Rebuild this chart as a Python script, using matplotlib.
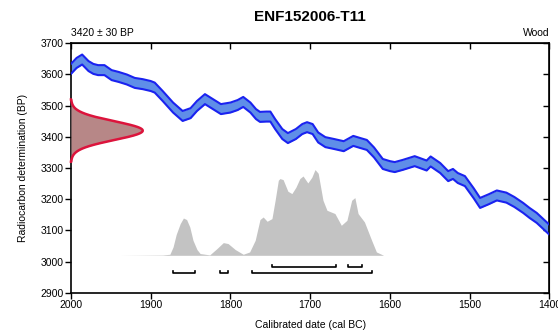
import matplotlib
matplotlib.use("Agg")
import matplotlib.pyplot as plt
import numpy as np

plt.rcParams["font.family"] = ["Liberation Sans", "DejaVu Sans"]

# measurement
c14_age = 3420
c14_err = 30

# calibration curve (mid line, cal BC -> BP)
cal_years = [2000, 1993, 1986, 1978, 1972, 1966, 1958, 1949, 1940, 1930, 1920,
             1910, 1900, 1895, 1885, 1872, 1860, 1850, 1842, 1832, 1822, 1812,
             1800, 1791, 1784, 1775, 1768, 1763, 1755, 1750, 1744, 1735, 1728,
             1718, 1710, 1704, 1697, 1690, 1681, 1670, 1658, 1646, 1637, 1629,
             1620, 1609, 1600, 1594, 1584, 1569, 1554, 1549, 1537, 1527, 1521,
             1515, 1506, 1495, 1487, 1476, 1466, 1454, 1444, 1433, 1425, 1416,
             1400]
cal_bp = [3618, 3637, 3648, 3627, 3618, 3614, 3614, 3598, 3592, 3584, 3573,
          3569, 3563, 3558, 3531, 3494, 3467, 3476, 3499, 3521, 3505, 3489,
          3494, 3502, 3512, 3494, 3473, 3464, 3465, 3465, 3441, 3409, 3396,
          3409, 3425, 3431, 3425, 3398, 3383, 3377, 3370, 3387, 3380, 3374,
          3350, 3313, 3306, 3303, 3310, 3322, 3308, 3321, 3300, 3274, 3281,
          3268, 3258, 3219, 3188, 3200, 3212, 3205, 3191, 3172, 3156, 3140,
          3102]
cal_err = 16

# calibrated probability (relative)
prob_years = [1939, 1885, 1876, 1872, 1868, 1863, 1859, 1855, 1851, 1847,
              1842, 1838, 1826, 1817, 1809, 1803, 1794, 1784, 1776, 1769,
              1763, 1759, 1754, 1748, 1744, 1740, 1738, 1734, 1728, 1723,
              1718, 1713, 1709, 1703, 1698, 1694, 1690, 1684, 1679, 1669,
              1661, 1654, 1648, 1644, 1640, 1632, 1623, 1617, 1608, 1509]
prob_vals = [0.0, 0.004, 0.012, 0.097, 0.245, 0.37, 0.435, 0.417, 0.33,
             0.175, 0.067, 0.02, 0.005, 0.078, 0.148, 0.137, 0.067, 0.012,
             0.039, 0.175, 0.417, 0.447, 0.397, 0.428, 0.642, 0.875, 0.895,
             0.883, 0.747, 0.72, 0.793, 0.895, 0.925, 0.844, 0.91, 1.0, 0.957,
             0.642, 0.525, 0.487, 0.35, 0.408, 0.642, 0.673, 0.487, 0.389,
             0.175, 0.039, 0.0, 0.0]

# highest density ranges
range_68 = [(1748, 1668), (1653, 1635)]
range_95 = [(1872, 1845), (1813, 1803), (1773, 1622)]

fig = plt.figure(figsize=(5.58, 3.33), dpi=100)
ax = fig.add_axes([0.1272, 0.121, 0.8575, 0.7489])

# calibration curve band
cy = np.array(cal_years)
cb = np.array(cal_bp)
ax.fill_between(cy, cb - cal_err, cb + cal_err, color="#5f8ee8", lw=0, zorder=2)
ax.plot(cy, cb + cal_err, color="#1a22f0", lw=1.5, zorder=3)
ax.plot(cy, cb - cal_err, color="#1a22f0", lw=1.5, zorder=3)

# radiocarbon measurement on the y axis
bp = np.linspace(c14_age - 100, c14_age + 100, 300)
dens = np.exp(-0.5 * ((bp - c14_age) / c14_err) ** 2)
xs = 2000 - 90 * dens
ax.fill_betweenx(bp, 2000, xs, color="#b78787", lw=0, zorder=4)
ax.plot(np.r_[2000, xs, 2000], np.r_[bp[0], bp, bp[-1]], color="#dc143c",
        lw=1.8, zorder=5, clip_on=False)

# calibrated distribution
base = 3020
ax.fill_between(prob_years, base, base + 275 * np.array(prob_vals),
                color="#c3c3c3", lw=0, zorder=1)


def bracket(a, b, y):
    ax.plot([a, a, b, b], [y + 7, y, y, y + 7], color="black", lw=1.2, zorder=3)


for a, b in range_68:
    bracket(a, b, 2983)
for a, b in range_95:
    bracket(a, b, 2963)

ax.set_xlim(2000, 1400)
ax.set_ylim(2900, 3700)
ax.set_xticks(np.arange(2000, 1399, -100))
ax.set_yticks(np.arange(2900, 3701, 100))
ax.tick_params(direction="out", length=4, width=1, labelsize=7.5, pad=1.5,
               colors="black")
for s in ax.spines.values():
    s.set_linewidth(1.2)

top = ax.secondary_xaxis("top")
top.set_xticks(np.arange(2000, 1399, -100))
top.tick_params(direction="in", length=4, width=1, labeltop=False)
right = ax.secondary_yaxis("right")
right.set_yticks(np.arange(2900, 3701, 100))
right.tick_params(direction="in", length=4, width=1, labelright=False)

ax.set_xlabel("Calibrated date (cal BC)", fontsize=7.5, labelpad=7)
ax.set_ylabel("Radiocarbon determination (BP)", fontsize=7.5, labelpad=9)

ax.text(0, 1.028, "3420 ± 30 BP", transform=ax.transAxes, fontsize=7.5,
        ha="left", va="baseline")
ax.text(1, 1.028, "Wood", transform=ax.transAxes, fontsize=7.5,
        ha="right", va="baseline")
ax.set_title("ENF152006-T11", fontsize=11, fontweight="bold", pad=16)

fig.savefig("out.png", dpi=100)
